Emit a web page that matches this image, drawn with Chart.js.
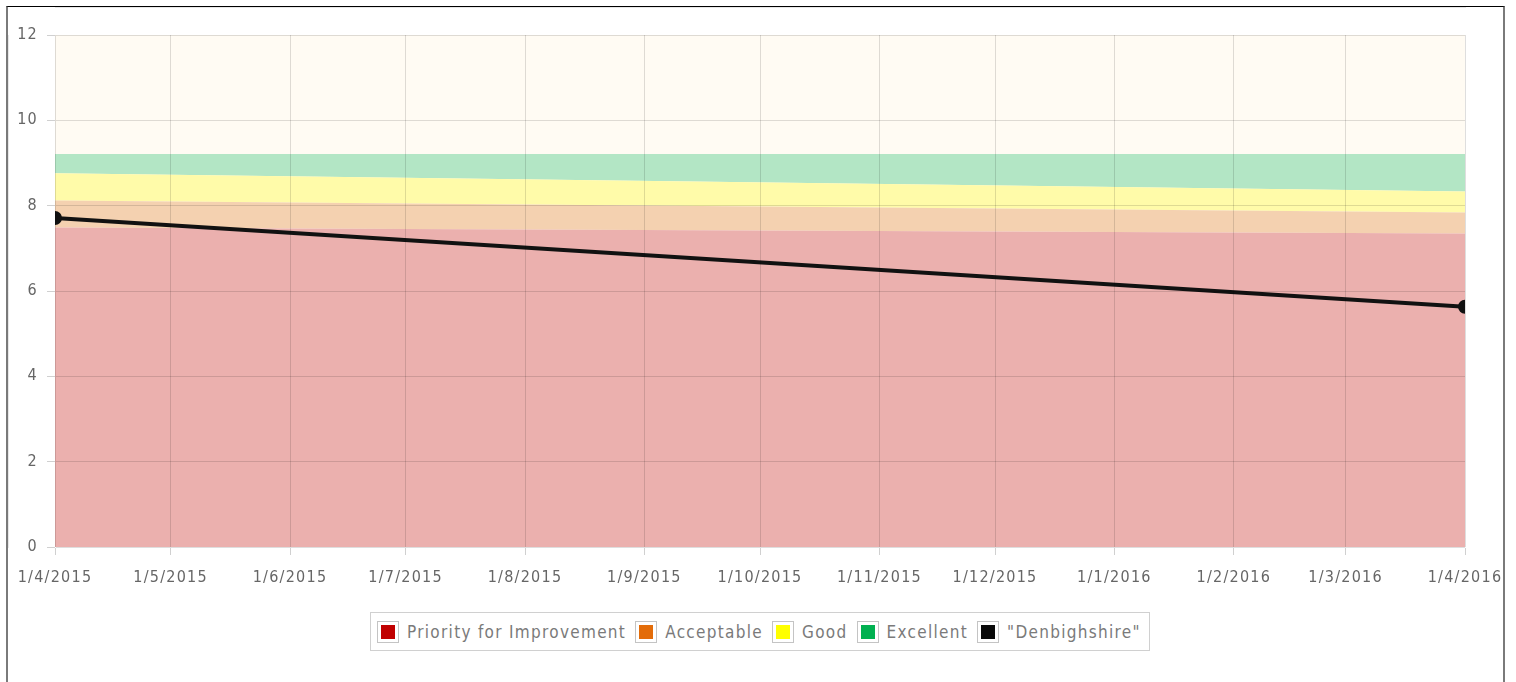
<!DOCTYPE html>
<html>
<head>
<meta charset="utf-8">
<script src="https://cdn.jsdelivr.net/npm/chart.js@4.4.1/dist/chart.umd.min.js"></script>
<style>
  html, body { margin: 0; padding: 0; background: #fff; }
  body { width: 1516px; height: 682px; position: relative; overflow: hidden; font-family: "DejaVu Sans Condensed", "DejaVu Sans", sans-serif; }
  #frame { position: absolute; left: 6px; top: 6px; width: 1499px; height: 700px; box-sizing: border-box;
           border-top: 1px solid #000; border-left: 2px solid #7a7a7a; border-right: 2px solid #7a7a7a; overflow: hidden; }
  #c { position: absolute; left: 0; top: 0; }
  #legend { position: absolute; left: 370px; top: 612px; width: 780px; height: 39px; box-sizing: border-box; display: flex; align-items: center;
            border: 1px solid #d0d0d0; padding: 0 4px 0 6px; white-space: nowrap; background: #fff; }
  .item { display: flex; align-items: center; margin-right: 9px; color: #7a7a7a; font-size: 17px; letter-spacing: 1.3px; line-height: 20px; }
  .item:last-child { margin-right: 0; }
  .sw { width: 22px; height: 22px; box-sizing: border-box; border: 1px solid #c4c4c4; padding: 3px; background: #fff; margin-right: 8px; flex: none; }
  .sw span { display: block; width: 100%; height: 100%; }
</style>
</head>
<body>
<div id="frame"><canvas id="c" width="1495" height="600" style="width:1495px;height:600px"></canvas></div>
<div id="legend"></div>
<script>
// ---- data ----
const bandDates = ['2015-04-01', '2016-04-01'];
const priorityForImprovement = [7.49, 7.35];
const acceptable = [8.12, 7.84];
const good = [8.76, 8.33];
const excellent = [9.21, 9.21];
const denbighshireDates = ['2015-04-01', '2016-04-01'];
const denbighshire = [7.71, 5.63];
const tickDates = ['2015-04-01','2015-05-01','2015-06-01','2015-07-01','2015-08-01','2015-09-01','2015-10-01',
                   '2015-11-01','2015-12-01','2016-01-01','2016-02-01','2016-03-01','2016-04-01'];
const yTicks = [0, 2, 4, 6, 8, 10, 12];
const seriesNames = ['Priority for Improvement', 'Acceptable', 'Good', 'Excellent', '"Denbighshire"'];
const legendColors = ['#c00000', '#e36c09', '#ffff00', '#00b050', '#0a0a0a'];
const fillColors = ['#ebb0ae', '#f4d1b0', '#fffba9', '#b3e6c5'];

// ---- helpers ----
const DAY = 86400000;
function toDay(s) { const p = s.split('-').map(Number); return Date.UTC(p[0], p[1] - 1, p[2]) / DAY; }
function fmt(v) { const d = new Date(Math.round(v) * DAY); return d.getUTCDate() + '/' + (d.getUTCMonth() + 1) + '/' + d.getUTCFullYear(); }
function pts(dates, vals) { return dates.map((d, i) => ({ x: toDay(d), y: vals[i] })); }

const bands = [priorityForImprovement, acceptable, good, excellent];
const datasets = bands.map((vals, i) => ({
  label: seriesNames[i],
  data: pts(bandDates, vals),
  fill: i === 0 ? 'origin' : '-1',
  backgroundColor: fillColors[i],
  borderColor: 'rgba(0,0,0,0)',
  borderWidth: 0,
  pointRadius: 0,
  tension: 0,
  order: 1
}));
datasets.push({
  label: seriesNames[4],
  data: pts(denbighshireDates, denbighshire),
  fill: false,
  borderColor: '#111',
  backgroundColor: '#111',
  borderWidth: 4,
  pointRadius: 5,
  pointBackgroundColor: '#111',
  pointBorderColor: '#111',
  tension: 0,
  order: -1
});

const spacingPlugin = {
  id: 'spacing',
  beforeUpdate(chart) { chart.ctx.letterSpacing = '1.25px'; },
  beforeDraw(chart) {
    chart.ctx.letterSpacing = '1.25px';
    const a = chart.chartArea, ctx = chart.ctx;
    ctx.save(); ctx.fillStyle = '#fffbf3'; ctx.fillRect(a.left, a.top, a.right - a.left, a.bottom - a.top); ctx.restore();
  }
};

const FONT = { family: '"DejaVu Sans Condensed", "DejaVu Sans", sans-serif', size: 16 };

new Chart(document.getElementById('c'), {
  type: 'line',
  data: { datasets },
  plugins: [spacingPlugin],
  options: {
    responsive: false,
    animation: false,
    layout: { padding: { top: 28, right: 38, left: 0, bottom: 0 } },
    plugins: { legend: { display: false }, tooltip: { enabled: false } },
    scales: {
      x: {
        type: 'linear',
        min: toDay(tickDates[0]),
        max: toDay(tickDates[tickDates.length - 1]),
        afterBuildTicks(scale) { scale.ticks = tickDates.map(d => ({ value: toDay(d) })); },
        afterFit(scale) { scale.height = 60; scale.paddingLeft = 0; scale.paddingRight = 0; },
        ticks: { callback: v => fmt(v), color: '#666', font: FONT, padding: 13, maxRotation: 0, autoSkip: false },
        grid: { color: 'rgba(0,0,0,0.13)', tickLength: 8, z: 1, tickColor: '#d0d0d0' },
        border: { color: '#d0d0d0' }
      },
      y: {
        min: 0, max: 12,
        afterBuildTicks(scale) { scale.ticks = yTicks.map(v => ({ value: v })); },
        afterFit(scale) { scale.width = 47; },
        ticks: { color: '#666', font: FONT, padding: 9 },
        grid: { color: 'rgba(0,0,0,0.13)', tickLength: 8, z: 1, tickColor: '#d0d0d0' },
        border: { color: '#d0d0d0' }
      }
    }
  }
});

// ---- HTML legend ----
const lg = document.getElementById('legend');
seriesNames.forEach((n, i) => {
  const it = document.createElement('div'); it.className = 'item';
  const sw = document.createElement('div'); sw.className = 'sw';
  const inner = document.createElement('span'); inner.style.background = legendColors[i];
  sw.appendChild(inner); it.appendChild(sw);
  const t = document.createElement('span'); t.textContent = n; it.appendChild(t);
  lg.appendChild(it);
});
</script>
</body>
</html>
